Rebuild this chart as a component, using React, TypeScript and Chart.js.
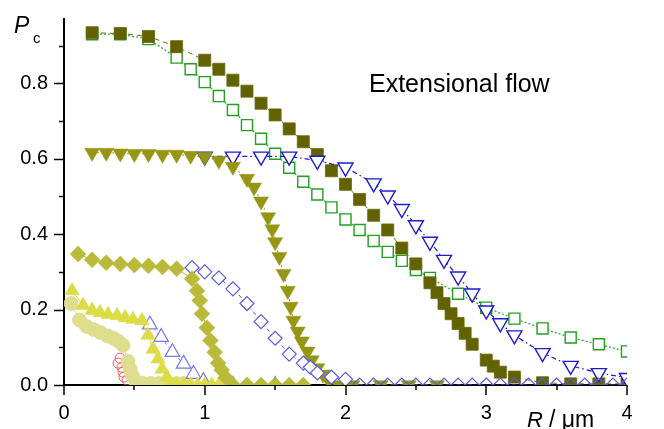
import React, { useEffect, useRef } from 'react';
import { Chart, registerables } from 'chart.js';

Chart.register(...registerables);

const FONT = "'Liberation Sans', Arial, Helvetica, sans-serif";

// Axis ticks
const X_TICKS = [0, 0.5, 1, 1.5, 2, 2.5, 3, 3.5, 4];
const X_LABELS = ['0', '', '1', '', '2', '', '3', '', '4'];
const Y_TICKS = [0, 0.1, 0.2, 0.3, 0.4, 0.5, 0.6, 0.7, 0.8, 0.9];
const Y_LABELS = ['0.0', '', '0.2', '', '0.4', '', '0.6', '', '0.8', ''];

// Dark olive filled squares
const darkSqX = [0.2, 0.4, 0.6, 0.8, 1.0, 1.1, 1.2, 1.3, 1.4, 1.5, 1.6, 1.7, 1.8, 1.9, 2.0, 2.1, 2.2, 2.3, 2.4, 2.5, 2.6, 2.65, 2.7, 2.75, 2.8, 2.85, 2.9, 3.0, 3.05, 3.1, 3.2, 3.4, 3.6, 3.8, 4.0];
const darkSqY = [0.934, 0.932, 0.924, 0.897, 0.861, 0.837, 0.808, 0.779, 0.747, 0.716, 0.679, 0.645, 0.611, 0.568, 0.532, 0.492, 0.450, 0.411, 0.363, 0.321, 0.271, 0.245, 0.216, 0.189, 0.163, 0.137, 0.108, 0.066, 0.050, 0.034, 0.021, 0.006, 0.003, 0.003, 0.003];

// Green open squares
const greenSqX = [0.2, 0.4, 0.6, 0.8, 0.9, 1.0, 1.1, 1.2, 1.3, 1.4, 1.5, 1.6, 1.7, 1.8, 1.9, 2.0, 2.1, 2.2, 2.3, 2.4, 2.5, 2.6, 2.8, 3.0, 3.2, 3.4, 3.6, 3.8, 4.0];
const greenSqY = [0.93, 0.93, 0.917, 0.868, 0.837, 0.803, 0.766, 0.729, 0.689, 0.653, 0.613, 0.576, 0.539, 0.505, 0.471, 0.439, 0.411, 0.382, 0.353, 0.329, 0.305, 0.284, 0.242, 0.205, 0.176, 0.150, 0.126, 0.108, 0.089];

// Blue open down-triangles
const blueDownX = [1.0, 1.2, 1.4, 1.6, 1.8, 2.0, 2.2, 2.3, 2.4, 2.5, 2.6, 2.7, 2.8, 2.9, 3.0, 3.1, 3.2, 3.4, 3.6, 3.8, 4.0];
const blueDownY = [0.606, 0.606, 0.606, 0.606, 0.595, 0.577, 0.535, 0.503, 0.467, 0.424, 0.380, 0.332, 0.288, 0.243, 0.198, 0.164, 0.132, 0.085, 0.051, 0.032, 0.019];

// Olive filled down-triangles
const oliveDownX = [0.2, 0.3, 0.4, 0.5, 0.6, 0.7, 0.8, 0.9, 1.0, 1.1, 1.2, 1.3, 1.35, 1.4, 1.45, 1.48, 1.5, 1.53, 1.56, 1.59, 1.61, 1.63, 1.66, 1.69, 1.73, 1.76, 1.8, 1.84, 1.88, 1.95, 2.05, 2.25, 2.45, 2.65];
const oliveDownY = [0.616, 0.616, 0.614, 0.613, 0.613, 0.611, 0.611, 0.608, 0.605, 0.595, 0.579, 0.547, 0.524, 0.487, 0.445, 0.413, 0.379, 0.340, 0.295, 0.250, 0.208, 0.171, 0.142, 0.116, 0.089, 0.066, 0.045, 0.028, 0.012, 0, 0, 0, 0, 0];

// Olive-yellow filled diamonds
const oliveDiaX = [0.1, 0.2, 0.3, 0.4, 0.5, 0.6, 0.7, 0.8, 0.91, 0.945, 0.965, 0.98, 1.015, 1.04, 1.07, 1.095, 1.12, 1.15, 1.2, 1.3, 1.4, 1.5, 1.6, 1.7];
const oliveDiaY = [0.347, 0.332, 0.324, 0.321, 0.318, 0.316, 0.313, 0.308, 0.282, 0.25, 0.224, 0.189, 0.152, 0.118, 0.087, 0.058, 0.040, 0.02, 0, 0, 0, 0, 0, 0];

// Blue open diamonds
const blueDiaX = [0.91, 1.0, 1.1, 1.2, 1.3, 1.4, 1.5, 1.6, 1.7, 1.75, 1.8, 1.9, 2.0, 2.1, 2.2, 2.3, 2.4, 2.5, 2.6, 2.7, 2.8, 2.9, 3.0, 3.1, 3.2, 3.3, 3.4, 3.5, 3.6, 3.7, 3.8, 3.9, 4.0];
const blueDiaY = [0.311, 0.300, 0.284, 0.255, 0.216, 0.168, 0.124, 0.082, 0.058, 0.047, 0.032, 0.021, 0.015, 0, 0, 0, 0, 0, 0, 0, 0, 0, 0, 0, 0, 0, 0, 0, 0, 0, 0, 0, 0];

// Yellow filled up-triangles
const yellowUpX = [0.057, 0.135, 0.2, 0.256, 0.313, 0.377, 0.434, 0.49, 0.554, 0.597, 0.633, 0.668, 0.697, 0.732, 0.755, 0.8, 0.85, 0.9, 0.95, 1.0, 1.05, 1.1, 1.15];
const yellowUpY = [0.25, 0.211, 0.198, 0.192, 0.187, 0.184, 0.179, 0.174, 0.171, 0.132, 0.095, 0.069, 0.042, 0.021, 0.005, 0, 0, 0, 0, 0, 0, 0, 0];

// Blue open up-triangles
const blueUpX = [0.61, 0.69, 0.77, 0.85, 0.92, 0.99, 1.2, 1.5];
const blueUpY = [0.16, 0.127, 0.087, 0.056, 0.029, 0.01, 0, 0];

// Pale yellow filled circles
const paleCircX = [0.05, 0.11, 0.16, 0.21, 0.26, 0.31, 0.35, 0.39, 0.42, 0.455, 0.47, 0.485, 0.51, 0.56, 0.62, 0.68, 0.74, 0.8, 0.85];
const paleCircY = [0.216, 0.172, 0.155, 0.147, 0.139, 0.130, 0.124, 0.115, 0.105, 0.062, 0.042, 0.025, 0.010, 0.004, 0.004, 0.004, 0.004, 0.004, 0.004];

// Red open circles
const redCircX = [0.384, 0.398, 0.412, 0.419, 0.426, 0.448];
const redCircY = [0.058, 0.071, 0.047, 0.034, 0.021, 0.013];

const pts = (xs: number[], ys: number[]) => xs.map((x, i) => ({ x, y: ys[i] }));

// open symbols: white inside, except those lying on the axis
const openFill = (ctx: any) => {
  const p = ctx.raw;
  return p && p.y > 0 ? '#ffffff' : 'rgba(255,255,255,0)';
};

const axesPlugin = {
  id: 'axesOverlay',
  beforeDatasetsDraw(chart: any) {
    const { ctx, chartArea: a, scales } = chart;
    const xs = scales.x;
    const ys = scales.y;
    ctx.save();
    ctx.strokeStyle = '#000';
    ctx.lineWidth = 2;
    ctx.beginPath();
    ctx.moveTo(a.left, a.top);
    ctx.lineTo(a.left, a.bottom);
    ctx.moveTo(a.left, a.bottom);
    ctx.lineTo(a.right, a.bottom);
    ctx.stroke();
    ctx.lineWidth = 1.5;
    Y_TICKS.forEach((v, i) => {
      const py = Math.round(ys.getPixelForValue(v)) + 0.5;
      const len = Y_LABELS[i] ? 10 : 5;
      ctx.beginPath();
      ctx.moveTo(a.left - len, py);
      ctx.lineTo(a.left, py);
      ctx.stroke();
    });
    X_TICKS.forEach((v, i) => {
      const px = Math.round(xs.getPixelForValue(v));
      const len = X_LABELS[i] ? 10 : 5;
      ctx.beginPath();
      ctx.moveTo(px, a.bottom);
      ctx.lineTo(px, a.bottom + len);
      ctx.stroke();
    });
    ctx.restore();
  },
  afterDraw(chart: any) {
    const { ctx } = chart;
    ctx.save();
    ctx.fillStyle = '#000';
    ctx.textBaseline = 'alphabetic';
    ctx.textAlign = 'left';
    ctx.font = `italic 23px ${FONT}`;
    ctx.fillText('P', 14, 33);
    ctx.font = `15px ${FONT}`;
    ctx.fillText('c', 33, 43);
    ctx.font = `italic 22px ${FONT}`;
    ctx.fillText('R', 527, 427);
    ctx.font = `23px ${FONT}`;
    ctx.fillText('/ \u03BCm', 549, 427);
    ctx.font = `25px ${FONT}`;
    ctx.fillText('Extensional flow', 369, 92);
    ctx.restore();
  },
};

export default function App() {
  const ref = useRef<HTMLCanvasElement | null>(null);
  useEffect(() => {
    if (!ref.current) return;
    const chart = new Chart(ref.current, {
      type: 'scatter',
      data: {
        datasets: [
          {
            label: 'olive diamonds', data: pts(oliveDiaX, oliveDiaY), pointStyle: 'rectRot', pointRadius: 8,
            pointBackgroundColor: '#baba3a', pointBorderColor: '#baba3a', pointBorderWidth: 0.5,
            showLine: true, borderColor: '#baba3a', borderWidth: 1, clip: 0,
          },
          {
            label: 'blue diamonds', data: pts(blueDiaX, blueDiaY), pointStyle: 'rectRot', pointRadius: 7,
            pointBackgroundColor: openFill, pointBorderColor: '#5a5ae6', pointBorderWidth: 1.2,
            showLine: true, borderColor: '#5a5ae6', borderWidth: 1, borderDash: [4, 3, 1, 3], clip: 0,
          },
          {
            label: 'olive down triangles', data: pts(oliveDownX, oliveDownY), pointStyle: 'triangle', pointRotation: 180, pointRadius: 8.7,
            pointBackgroundColor: '#969614', pointBorderColor: '#969614', pointBorderWidth: 0.5,
            showLine: true, borderColor: '#969614', borderWidth: 1, borderDash: [2, 3], clip: 0,
          },
          {
            label: 'blue down triangles', data: pts(blueDownX, blueDownY), pointStyle: 'triangle', pointRotation: 180, pointRadius: 8.7,
            pointBackgroundColor: openFill, pointBorderColor: '#1c1cd0', pointBorderWidth: 1.4,
            showLine: true, borderColor: '#1c1cd0', borderWidth: 1.2, borderDash: [5, 3, 1.5, 3], clip: 0,
          },
          {
            label: 'dark squares', data: pts(darkSqX, darkSqY), pointStyle: 'rect', pointRadius: 8.5,
            pointBackgroundColor: '#626200', pointBorderColor: '#6a6a10', pointBorderWidth: 0.8,
            showLine: true, borderColor: '#6e6e18', borderWidth: 1, borderDash: [5, 4], clip: 0,
          },
          {
            label: 'green squares', data: pts(greenSqX, greenSqY), pointStyle: 'rect', pointRadius: 7.8,
            pointBackgroundColor: openFill, pointBorderColor: '#22a022', pointBorderWidth: 1.4,
            showLine: true, borderColor: '#2aa82a', borderWidth: 1.2, borderDash: [2, 2], clip: 0,
          },
          {
            label: 'yellow up triangles', data: pts(yellowUpX, yellowUpY), pointStyle: 'triangle', pointRadius: 8.3,
            pointBackgroundColor: '#dcdc46', pointBorderColor: '#dcdc46', pointBorderWidth: 0.5,
            showLine: true, borderColor: '#dcdc46', borderWidth: 1, clip: 0,
          },
          {
            label: 'blue up triangles', data: pts(blueUpX, blueUpY), pointStyle: 'triangle', pointRadius: 8.5,
            pointBackgroundColor: openFill, pointBorderColor: '#7878f0', pointBorderWidth: 1.2,
            showLine: true, borderColor: '#7878f0', borderWidth: 1, borderDash: [4, 3, 1, 3], clip: 0,
          },
          {
            label: 'pale circles', data: pts(paleCircX, paleCircY), pointStyle: 'circle', pointRadius: 7,
            pointBackgroundColor: '#dede8e', pointBorderColor: '#e2d890', pointBorderWidth: 0.8,
            showLine: true, borderColor: '#dede8e', borderWidth: 1, clip: 0,
          },
          {
            label: 'red circles', data: pts(redCircX, redCircY), pointStyle: 'circle', pointRadius: 5,
            pointBackgroundColor: 'rgba(0,0,0,0)', pointBorderColor: '#f06060', pointBorderWidth: 1,
            showLine: false, clip: 0,
          },
        ] as any,
      },
      options: {
        animation: false,
        responsive: true,
        maintainAspectRatio: false,
        events: [],
        layout: { padding: { top: 15, right: 37, left: 0, bottom: 0 } },
        plugins: { legend: { display: false }, tooltip: { enabled: false } },
        scales: {
          x: {
            type: 'linear', min: 0, max: 4,
            afterBuildTicks: (s: any) => { s.ticks = X_TICKS.map((v) => ({ value: v })); },
            afterFit: (s: any) => { s.height = 44; },
            ticks: {
              autoSkip: false, maxRotation: 0, color: '#000', padding: 6,
              font: { family: FONT, size: 20 },
              callback: (_v: any, i: number) => X_LABELS[i],
            },
            grid: { drawOnChartArea: false, drawTicks: true, tickLength: 10, tickColor: 'rgba(0,0,0,0)', color: 'rgba(0,0,0,0)' },
            border: { display: false },
          },
          y: {
            type: 'linear', min: 0, max: 0.973,
            afterBuildTicks: (s: any) => { s.ticks = Y_TICKS.map((v) => ({ value: v })); },
            afterFit: (s: any) => { s.width = 64; },
            ticks: {
              autoSkip: false, color: '#000', padding: 6,
              font: { family: FONT, size: 20 },
              callback: (_v: any, i: number) => Y_LABELS[i],
            },
            grid: { drawOnChartArea: false, drawTicks: true, tickLength: 10, tickColor: 'rgba(0,0,0,0)', color: 'rgba(0,0,0,0)' },
            border: { display: false },
          },
        },
      } as any,
      plugins: [axesPlugin],
    });
    return () => chart.destroy();
  }, []);
  return (
    <div style={{ position: 'absolute', left: 0, top: 0, width: 664, height: 429, background: '#fff' }}>
      <canvas ref={ref} />
    </div>
  );
}
